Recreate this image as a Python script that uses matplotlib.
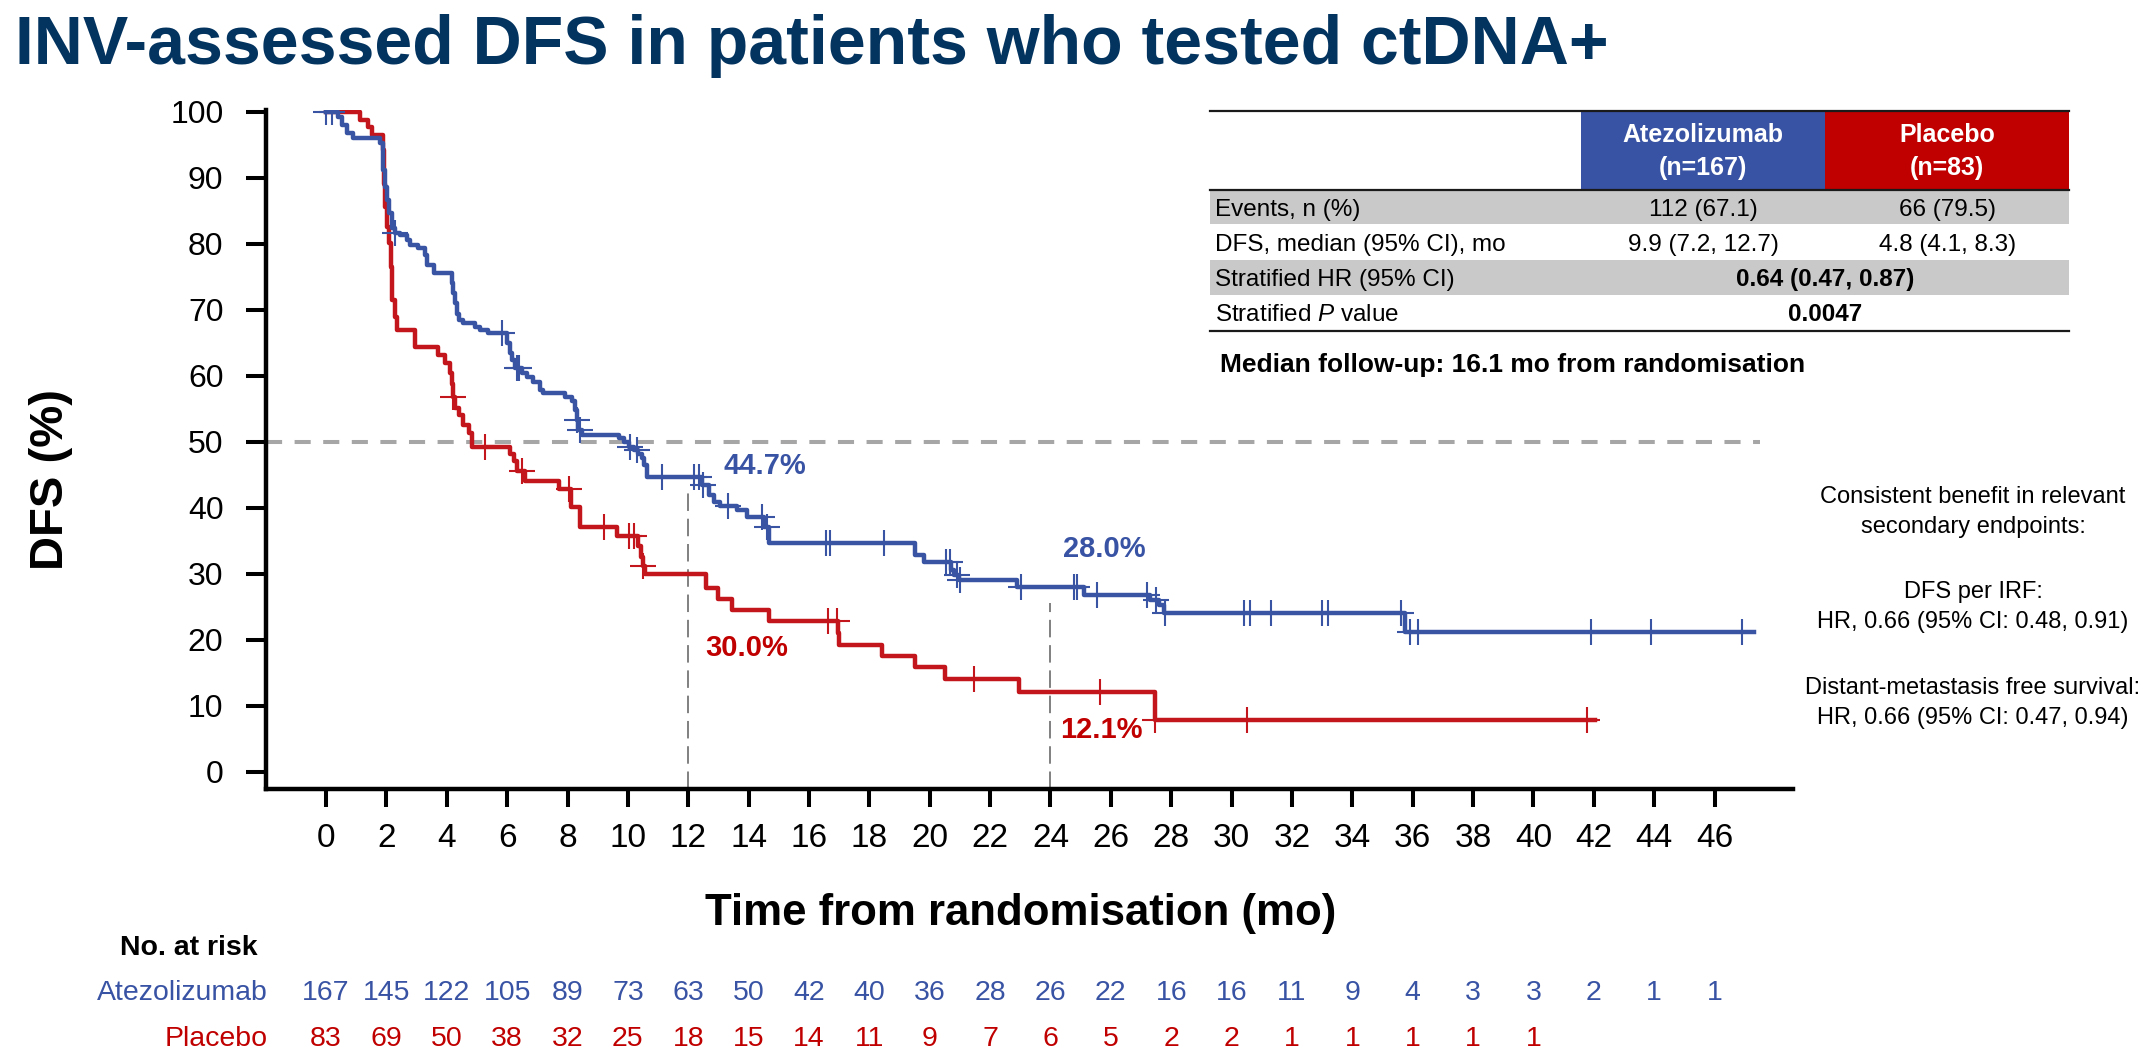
import matplotlib
matplotlib.use("Agg")
import matplotlib.pyplot as plt
import numpy as np
from matplotlib.patches import Rectangle
from matplotlib.transforms import blended_transform_factory

plt.rcParams['font.family'] = ['Liberation Sans', 'DejaVu Sans']
plt.rcParams['mathtext.fontset'] = 'custom'
plt.rcParams['mathtext.rm'] = 'Liberation Sans'
plt.rcParams['mathtext.it'] = 'Liberation Sans:italic'
plt.rcParams['mathtext.bf'] = 'Liberation Sans:bold'

BLUE = '#3A54A4'
RED = '#C3161C'
NAVY = '#03335F'

# KM curves: step times (mo) and DFS (%) after each step
atezo_t = [0, 0.41, 0.52, 0.68, 0.90, 1.79, 1.88, 1.96, 2.03, 2.10, 2.18, 2.29, 2.45,
           2.67, 2.78, 3.06, 3.28, 3.34, 3.56, 4.17, 4.22, 4.28, 4.33, 4.42, 4.53,
           4.94, 5.11, 5.38, 5.99, 6.08, 6.15, 6.27, 6.49, 6.65, 6.87, 7.10, 7.20,
           7.92, 8.14, 8.26, 8.31, 8.36, 8.48, 9.69, 9.86, 10.02, 10.19, 10.35, 10.46,
           10.54, 10.63, 12.45, 12.70, 12.85, 13.05, 13.60, 13.94, 14.50, 14.66,
           19.52, 19.80, 20.69, 20.80, 20.96, 22.90, 25.10, 27.31, 27.59, 27.76, 35.76]
atezo_s = [100, 99.2, 98.0, 96.7, 96.0, 95.2, 91.2, 88.6, 86.6, 84.6, 82.3, 81.6, 81.3,
           80.6, 79.8, 79.3, 78.3, 76.8, 75.5, 74.0, 72.5, 71.0, 69.4, 68.4, 68.0,
           67.4, 66.9, 66.4, 64.9, 63.4, 62.4, 61.1, 60.4, 59.8, 59.1, 57.8, 57.3,
           56.8, 56.1, 54.8, 53.3, 51.8, 51.0, 50.5, 50.0, 49.2, 48.7, 48.2, 47.5,
           46.5, 44.7, 43.4, 41.9, 40.9, 40.2, 39.6, 38.6, 37.1, 34.6,
           32.8, 31.8, 30.6, 29.8, 29.0, 28.0, 26.7, 26.0, 25.3, 24.0, 21.1]
atezo_end = 47.3
atezo_cens = [0.0, 0.2, 2.29, 5.82, 6.32, 6.38, 8.31, 8.40, 10.08, 10.30, 11.13, 12.18,
              12.35, 12.50, 13.30, 14.44, 14.60, 16.57, 16.68, 18.50, 20.55, 20.66,
              20.90, 21.00, 23.03, 24.77, 24.88, 25.55, 27.20, 27.50, 27.81, 30.40,
              30.60, 31.30, 33.00, 33.20, 35.60, 35.90, 36.16, 41.90, 43.90, 46.90]

placebo_t = [0, 1.13, 1.40, 1.51, 1.90, 1.92, 1.96, 2.03, 2.10, 2.14, 2.18, 2.29, 2.34,
             2.95, 3.72, 3.94, 4.11, 4.17, 4.20, 4.28, 4.39, 4.55, 4.72, 4.83, 6.10,
             6.21, 6.32, 6.60, 7.73, 8.12, 8.40, 9.63, 10.35, 10.42, 10.50, 10.56,
             12.60, 13.00, 13.45, 14.66, 16.95, 17.00, 18.42, 19.52, 20.52, 22.95, 27.45]
placebo_s = [100, 98.7, 97.7, 96.5, 94.2, 89.1, 85.6, 82.6, 80.1, 76.5, 71.5, 68.9, 66.9,
             64.3, 63.1, 61.9, 60.4, 58.8, 56.8, 55.1, 54.0, 52.5, 51.3, 49.2, 48.2,
             47.0, 45.5, 44.1, 42.8, 40.1, 37.1, 35.7, 34.2, 32.6, 31.1, 30.0,
             27.8, 26.2, 24.5, 22.9, 21.0, 19.2, 17.5, 15.8, 14.0, 12.1, 7.8]
placebo_end = 42.05
placebo_cens = [4.22, 5.27, 6.49, 8.05, 9.21, 10.02, 10.20, 10.50, 16.63, 16.93,
                21.46, 25.63, 27.45, 30.50, 41.76]

landmarks = [12, 24]
atezo_landmark = ['44.7%', '28.0%']
placebo_landmark = ['30.0%', '12.1%']
atezo_landmark_val = [44.7, 28.0]
placebo_landmark_val = [30.0, 12.1]

risk_times = list(range(0, 47, 2))
atezo_risk = [167, 145, 122, 105, 89, 73, 63, 50, 42, 40, 36, 28, 26, 22, 16, 16, 11, 9, 4, 3, 3, 2, 1, 1]
placebo_risk = [83, 69, 50, 38, 32, 25, 18, 15, 14, 11, 9, 7, 6, 5, 2, 2, 1, 1, 1, 1, 1]

row_labels = ['Events, n (%)', 'DFS, median (95% CI), mo', 'Stratified HR (95% CI)',
              r'Stratified $\mathit{P}$ value']
atezo_vals = ['112 (67.1)', '9.9 (7.2, 12.7)']
placebo_vals = ['66 (79.5)', '4.8 (4.1, 8.3)']
joint_vals = ['0.64 (0.47, 0.87)', '0.0047']

side_lines = ['Consistent benefit in relevant', 'secondary endpoints:', 'DFS per IRF:',
              'HR, 0.66 (95% CI: 0.48, 0.91)', 'Distant-metastasis free survival:',
              'HR, 0.66 (95% CI: 0.47, 0.94)']

W, H = 2146, 1050
fig = plt.figure(figsize=(W / 100, H / 100), dpi=100)

ax = fig.add_axes([265.7 / W, 260.7 / H, (1793 - 265.7) / W, (940.3 - 260.7) / H])
ax.set_xlim(-2, 48.6)
ax.set_ylim(-2.67, 100.3)


def draw_arm(t, s, end, cens, color):
    tt = list(t) + [end]
    ss = list(s) + [s[-1]]
    ax.step(tt, ss, where='post', color=color, lw=3.2, zorder=3)
    idx = np.searchsorted(t, cens, side='right') - 1
    cy = np.array(s)[idx]
    ax.plot(cens, cy, ls='none', marker='+', ms=19, mew=1.5, color=color, zorder=4)


ax.axhline(50, xmin=0, xmax=(47.5 + 2) / 50.6, color='#A6A6A6', lw=2.9,
           dashes=(4, 3.1), zorder=1)
ax.vlines(landmarks, -2.67, [v - 2.5 for v in atezo_landmark_val], color='#808080',
          lw=1.4, linestyles=(0, (9, 4)), zorder=1)

draw_arm(placebo_t, placebo_s, placebo_end, placebo_cens, RED)
draw_arm(atezo_t, atezo_s, atezo_end, atezo_cens, BLUE)

lab_off_a = [(1.17, 0.4), (0.42, 4.6)]
lab_off_p = [(0.55, -12.5), (0.33, -7.0)]
for i, lm in enumerate(landmarks):
    ax.text(lm + lab_off_a[i][0], atezo_landmark_val[i] + lab_off_a[i][1], atezo_landmark[i],
            color='#3953A4', fontsize=21, fontweight='bold', va='baseline', ha='left')
    ax.text(lm + lab_off_p[i][0], placebo_landmark_val[i] + lab_off_p[i][1], placebo_landmark[i],
            color='#C00000', fontsize=21, fontweight='bold', va='baseline', ha='left')

for side in ['top', 'right']:
    ax.spines[side].set_visible(False)
for side in ['left', 'bottom']:
    ax.spines[side].set_linewidth(3.2)
ax.set_xticks(risk_times)
ax.set_yticks(range(0, 101, 10))
ax.tick_params(axis='x', length=13, width=2.9, labelsize=24, pad=11)
ax.tick_params(axis='y', length=14.4, width=2.9, labelsize=23, pad=16)

fig.text(15 / W, 1 - 64 / H, 'INV-assessed DFS in patients who tested ctDNA+', color=NAVY,
         fontsize=49, fontweight='bold', ha='left', va='baseline')
fig.text(1021 / W, 1 - 925 / H, 'Time from randomisation (mo)', fontsize=31.5,
         fontweight='bold', ha='center', va='baseline')
fig.text(51 / W, 1 - 479 / H, 'DFS (%)', fontsize=34, fontweight='bold', rotation=90,
         ha='center', va='center')

# number at risk
tr = blended_transform_factory(ax.transData, fig.transFigure)
fig.text(258 / W, 1 - 955 / H, 'No. at risk', fontsize=20.5, fontweight='bold',
         ha='right', va='baseline')
fig.text(268 / W, 1 - 1000 / H, 'Atezolizumab', fontsize=20.5, color='#3953A4',
         ha='right', va='baseline')
fig.text(268 / W, 1 - 1046 / H, 'Placebo', fontsize=20.5, color='#C00000',
         ha='right', va='baseline')
for x, n in zip(risk_times, atezo_risk):
    ax.text(x, 1 - 1000 / H, str(n), transform=tr, fontsize=20.5, color='#3953A4',
            ha='center', va='baseline')
for x, n in zip(risk_times, placebo_risk):
    ax.text(x, 1 - 1046 / H, str(n), transform=tr, fontsize=20.5, color='#C00000',
            ha='center', va='baseline')

# summary table
tab = fig.add_axes([1210 / W, (H - 330.7) / H, 859.3 / W, 220 / H])
tab.set_xlim(0, 859.3)
tab.set_ylim(220, 0)
tab.axis('off')
col_edges = [0, 371, 615, 859.3]
row_edges = [79.3, 113.6, 149.3, 184.3, 220]
tab.add_patch(Rectangle((col_edges[1], 0), col_edges[2] - col_edges[1], row_edges[0],
                        color='#3953A4', lw=0))
tab.add_patch(Rectangle((col_edges[2], 0), col_edges[3] - col_edges[2], row_edges[0],
                        color='#C00000', lw=0))
for r in (0, 2):
    tab.add_patch(Rectangle((0, row_edges[r]), col_edges[3], row_edges[r + 1] - row_edges[r],
                            color='#C9C9C9', lw=0))
for yl in (0, row_edges[0], row_edges[-1]):
    tab.plot([0, col_edges[3]], [yl, yl], color='#1A1A1A', lw=1.6, clip_on=False)

heads = [('Atezolizumab', '(n=167)'), ('Placebo', '(n=83)')]
for c, (h1, h2) in enumerate(heads):
    xc = (col_edges[c + 1] + col_edges[c + 2]) / 2
    tab.text(xc, 24.3, h1, color='white', fontsize=18, fontweight='bold', ha='center', va='center')
    tab.text(xc, 57.6, h2, color='white', fontsize=18, fontweight='bold', ha='center', va='center')

for r, lab in enumerate(row_labels):
    yb = (row_edges[r] + row_edges[r + 1]) / 2 + 8.5
    tab.text(5, yb, lab, fontsize=17.5, ha='left', va='baseline')
    if r < 2:
        tab.text((col_edges[1] + col_edges[2]) / 2, yb, atezo_vals[r], fontsize=17.5,
                 ha='center', va='baseline')
        tab.text((col_edges[2] + col_edges[3]) / 2, yb, placebo_vals[r], fontsize=17.5,
                 ha='center', va='baseline')
    else:
        tab.text(col_edges[2], yb, joint_vals[r - 2], fontsize=17.5, fontweight='bold',
                 ha='center', va='baseline')

fig.text(1220 / W, 1 - 371.7 / H, 'Median follow-up: 16.1 mo from randomisation',
         fontsize=19, fontweight='bold', ha='left', va='baseline')

side_y = [496.7, 526.7, 591.7, 621.7, 688.3, 718.3]
for txt, yy in zip(side_lines, side_y):
    fig.text(1973 / W, 1 - yy / H, txt, fontsize=17, ha='center', va='center')

fig.savefig('out.png', dpi=100)
